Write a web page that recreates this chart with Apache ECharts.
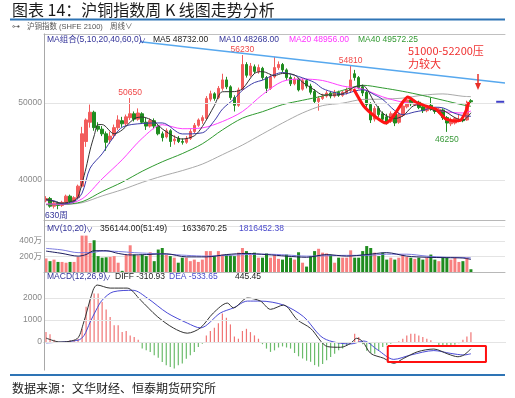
<!DOCTYPE html>
<html>
<head>
<meta charset="utf-8">
<script src="https://cdn.jsdelivr.net/npm/echarts@6/dist/echarts.min.js"></script>
<style>
  html, body { margin: 0; padding: 0; background: #fff; }
  #chart { width: 515px; height: 398px; }
</style>
</head>
<body>
<div id="chart"></div>
<script>
// weekly candles: [open, close, low, high]
const ohlc = [
  [37300,37600,37100,37900],[37600,36600,36400,37800],[36600,37000,36300,37200],[37000,36700,36200,37200],
  [36700,37100,36500,37300],[37100,37900,36900,38100],[37900,37200,37000,38100],[37200,37700,37000,37900],
  [37700,39200,37500,39400],[39200,46000,39000,46900],[45000,47800,44300,48000],[47500,48800,46800,49800],
  [48800,46800,46400,49000],[47000,46600,46300,47500],[46600,46000,45700,47000],[46000,44900,43800,46300],
  [45200,45700,44700,46300],[45800,46800,45400,47200],[46800,47800,46500,48400],[47700,47300,46900,48200],
  [47300,48200,47000,48500],[48100,48600,47800,50650],[48600,47900,47600,48900],[47900,48700,47700,49300],
  [48600,47500,47300,48800],[47500,47000,46500,48100],[47000,47700,46800,48000],[47700,47000,46600,48000],
  [47000,46000,45800,47200],[46000,45500,45000,46300],[45600,46400,45400,46700],[46400,45000,44300,46600],
  [45100,45300,44600,45800],[45400,45000,44800,45700],[45000,44900,44600,45400],[44900,45400,44700,45700],
  [45400,46300,45200,46600],[46300,47100,46100,47400],[47100,47800,46900,48000],[47700,48100,47300,48400],
  [48000,50600,47900,50900],[50500,51200,50200,51600],[51200,50600,50300,51400],[50700,51900,50500,52200],
  [51900,53000,51600,53800],[53000,52100,51800,53400],[52100,50700,50400,52300],[50700,49700,48900,51000],
  [49700,51700,49500,52000],[51800,55000,51600,56230],[55000,53600,53300,55300],[53600,54800,53400,55200],
  [54700,54100,53800,55000],[54100,54600,53800,55000],[54500,53300,53000,54700],[53300,51900,51300,53500],
  [51900,53400,51700,53700],[53400,54600,53200,56000],[54600,55000,54300,55400],[55000,54300,54000,55200],
  [54300,53300,53000,54500],[53300,52500,52200,53600],[52500,53100,52300,53400],[53100,51700,51500,53300],
  [51800,52900,51600,53200],[52900,52200,51900,53100],[52200,51400,51100,52500],[51500,50200,50000,51800],
  [50200,50600,49000,50900],[50600,50900,50400,51200],[50900,51300,50700,51600],[51300,50900,50600,51500],
  [50900,51400,50700,51700],[51400,51000,50800,51600],[51000,51400,50800,51600],[51300,51700,51100,52000],
  [51600,53000,51300,54810],[53800,53300,52900,54300],[53300,52000,51800,53500],[52100,51300,50900,52400],
  [51400,49800,49500,51600],[49800,47800,47400,50100],[47900,49300,47600,49600],[49300,48500,48200,49600],
  [48600,47900,47600,48900],[48200,47500,47200,48600],[47600,48600,47400,48900],[48600,47400,47000,48800],
  [47500,48500,47300,48800],[48400,49600,48200,49900],[49500,50400,49300,50700],[50400,49900,49600,50600],
  [49800,50100,49600,50400],[50100,49400,49200,50300],[49500,49000,48700,49700],[49000,49500,48800,49700],
  [49700,49200,49000,50700],[49200,48900,48600,49400],[48800,49200,48600,49400],[49100,48100,47800,49300],
  [48100,47400,46250,48300],[47300,47800,47000,48100],[47400,48000,47200,48200],[47800,47900,47500,48600],
  [47900,47700,47500,48100],[47800,49900,47700,50300],[50300,50160,49900,50500]
];

// volume, 万
const volume = [
  175,140,160,130,130,120,130,130,195,470,
  470,375,410,205,185,190,195,205,120,15,
  225,345,225,215,225,205,255,140,290,310,
  225,205,185,120,185,185,140,160,130,160,
  270,270,205,270,225,225,215,205,250,310,
  270,225,250,185,185,240,185,215,170,160,
  225,185,160,255,120,70,205,270,300,250,
  240,225,120,185,185,185,280,185,185,270,
  335,310,250,205,250,160,185,160,185,225,
  195,185,170,185,160,185,225,160,140,185,
  185,160,185,130,140,185,35.6
];

// moving averages: [week index, value]
const ma5 = [[0,37500],[2,37200],[4,37000],[7,37320],[8,37820],[9,39600],[10,41580],[11,43900],[12,45720],[13,47200],[14,47200],[17,46000],[19,46500],[22,47960],[24,48180],[27,47580],[29,46640],[32,45640],[34,45320],[37,45740],[39,46940],[42,49660],[44,51460],[47,51480],[49,51840],[52,53840],[54,54080],[57,53560],[59,53840],[62,53640],[64,52700],[67,51680],[69,51060],[72,51020],[74,51200],[77,52080],[79,52260],[82,50040],[84,48660],[87,47980],[89,48320],[92,49700],[94,49760],[97,49000],[99,48980],[102,48100],[104,47760],[106,48732]];
const ma10 = [[0,37400],[2,37300],[4,36900],[7,37200],[9,38300],[11,41540],[14,43400],[16,44950],[19,46850],[24,47340],[29,47410],[34,45980],[39,46130],[42,47700],[44,49200],[47,50570],[49,51650],[52,52660],[54,52960],[57,53700],[59,53960],[62,53600],[64,53270],[67,52660],[69,51880],[72,51350],[74,51130],[77,51550],[79,51730],[82,51060],[84,50460],[87,49010],[89,48490],[92,48840],[94,49040],[97,49450],[99,49370],[102,48650],[104,48370],[106,48268]];
const ma20 = [[0,36900],[4,36850],[9,37550],[14,40150],[19,42625],[24,45420],[29,47180],[34,46660],[39,46770],[44,47590],[49,48890],[54,51080],[59,52805],[64,53115],[69,52920],[74,52200],[79,51805],[84,50795],[89,50110],[94,49750],[99,48930],[104,48705],[106,48956]];
const ma40 = [[0,36800],[4,36825],[9,37175],[14,38500],[19,39712],[24,41135],[29,42365],[34,43430],[39,44698],[44,46505],[49,48035],[54,48870],[59,49788],[64,50353],[69,50905],[74,51640],[79,52305],[84,51955],[89,51515],[94,50975],[99,50368],[104,49750],[106,49572]];
const ma60 = [[0,36800],[4,36817],[9,37050],[14,37933],[19,38742],[24,39690],[29,40510],[34,41220],[39,42065],[44,43287],[49,44540],[54,45980],[59,47400],[64,48708],[69,49663],[74,49980],[79,50460],[84,50500],[89,50640],[94,51010],[99,51180],[104,50872],[106,50826]];

const volMa10 = [[0,270],[4,240],[8,205],[10,225],[12,275],[15,275],[18,240],[21,220],[25,225],[30,235],[35,195],[40,195],[45,225],[50,240],[55,225],[60,205],[65,190],[70,225],[75,205],[80,225],[85,250],[90,205],[95,190],[100,185],[104,180],[106,163]];
const volMa20 = [[0,305],[4,285],[8,250],[11,250],[14,270],[18,265],[22,250],[26,240],[30,230],[35,215],[40,205],[45,215],[50,225],[55,230],[60,220],[65,205],[70,210],[75,215],[80,215],[85,230],[90,230],[95,205],[100,190],[104,188],[106,182]];

// MACD(12,26,9)
const macdHist = [
  450,350,100,0,-40,30,80,100,150,600,
  1600,1900,2200,2200,1820,1480,1140,760,760,450,
  500,300,230,100,-300,-380,-450,-600,-720,-910,
  -1060,-1140,-1210,-1060,-980,-760,-600,-450,-230,-80,
  300,500,650,850,1300,1100,800,250,150,500,
  600,450,300,150,-100,-300,-450,-380,-250,-200,
  -250,-300,-500,-650,-750,-850,-900,-1050,-1120,-1000,
  -830,-680,-530,-380,-300,-150,0,380,230,-100,
  -400,-500,-530,-380,-230,-150,-80,-30,30,150,
  300,380,380,300,230,150,80,-50,-150,-230,
  -200,-150,-120,-60,100,250,445
];
const diff = [[0,180],[3.5,0],[7.75,150],[9.25,800],[11.75,2360],[12.75,2590],[16,2450],[20.25,2450],[23.5,1920],[27.75,1160],[31.75,640],[35.25,400],[38.5,640],[41.75,1320],[45.25,1770],[46.75,1550],[50.25,2000],[53.5,1860],[56,1485],[59.25,1680],[62.75,1000],[66,620],[70.25,-210],[73.5,-240],[76,-60],[77.5,170],[79,15],[81,-520],[84.25,-740],[86.75,-970],[89.25,-740],[92.75,-440],[96.75,-320],[100.25,-545],[102.75,-670],[104.25,-590],[106,-311]];
const dea = [[0,-40],[8,80],[9.5,300],[11,900],[12.5,1450],[14,1900],[16.75,2280],[21.75,2350],[25.25,2000],[30.25,1320],[35.25,860],[38.5,640],[43.5,1320],[46.75,1550],[50.25,1860],[53.5,1860],[59.25,1680],[64.25,1150],[69.25,170],[76,-90],[79.25,45],[82.75,-360],[86.75,-790],[91,-590],[96.75,-390],[101,-520],[104.25,-590],[106,-534]];

// marked extremes
const peakIdx = [21, 49, 76, 100];
const peakPrice = [50650, 56230, 54810, 46250];

// analyst drawings, in [week index, price]
const trendLine = [[23.5, 57950], [114.5, 52610]];
const wLine = [[76.75,51820],[79.25,49610],[82.25,48180],[84.75,47400],[86.5,48180],[89,50130],[90.25,50780],[92.25,50130],[95.5,49480],[97.25,49220],[99.75,47920],[102.25,47660],[103.5,47790],[104.75,48960],[105.5,50130]];
const lastPrice = [[112.3, 50160], [114.3, 50160]];
const macdBox = [[85.25,-180],[109.75,-180],[109.75,-910],[85.25,-910],[85.25,-180]];

const slots = 115;
const cats = [];
for (let i = 0; i < slots; i++) cats.push('W' + (i + 1));

const UP = '#f25c5c', DOWN = '#1f8c1f';
const NUM_FONT = '"Liberation Sans", "Noto Sans CJK SC", sans-serif';

function txt(x, y, text, color, size, family) {
  return {
    type: 'text', x: x, y: y, silent: true, z: 20,
    style: { text: text, fill: color, font: size + 'px ' + (family || NUM_FONT), verticalAlign: 'middle' }
  };
}
function hline(x1, x2, y, color, w) {
  return { type: 'line', silent: true, z: 20, shape: { x1: x1, y1: y, x2: x2, y2: y }, style: { stroke: color, lineWidth: w || 1 } };
}

const catAxis = g => ({
  type: 'category', gridIndex: g, data: cats, boundaryGap: true,
  axisLine: { show: true, lineStyle: { color: '#b8b8b8' } },
  axisTick: { show: false }, axisLabel: { show: false }, splitLine: { show: false }
});
const valAxis = g => ({
  type: 'value', gridIndex: g, min: -0.5, max: slots - 0.5, show: false
});
const gridMark = (vals) => ({
  silent: true, symbol: ['none', 'none'], animation: false,
  lineStyle: { color: '#e4e4e4', type: 'solid', width: 1 },
  label: { position: 'start', distance: 2, color: '#888', fontSize: 8.5, fontFamily: 'Liberation Sans', formatter: p => p.value },
  data: vals.map(v => ({ yAxis: v }))
});
const maLine = (data, color, xi, yi) => ({
  type: 'line', xAxisIndex: xi, yAxisIndex: yi, data: data, showSymbol: false, symbol: 'none',
  smooth: 0.3, lineStyle: { color: color, width: 1 }, z: 4, silent: true
});

const chart = echarts.init(document.getElementById('chart'), null, { renderer: 'canvas' });

chart.setOption({
  animation: false,
  backgroundColor: '#fff',
  grid: [
    { left: 44, right: 10, top: 34, height: 186, outerBoundsMode: 'none' },
    { left: 44, right: 10, top: 226, height: 46, outerBoundsMode: 'none' },
    { left: 44, right: 10, top: 277, height: 93, outerBoundsMode: 'none' }
  ],
  xAxis: [
    catAxis(0), catAxis(1), catAxis(2),
    Object.assign(valAxis(0), { show: true, position: 'top', axisLine: { show: true, lineStyle: { color: '#c0c0c0' } }, axisTick: { show: false }, axisLabel: { show: false }, splitLine: { show: false } }),
    valAxis(1), valAxis(2)
  ],
  yAxis: [
    { type: 'value', gridIndex: 0, min: 34805, max: 58961, axisLine: { show: false }, axisTick: { show: false }, axisLabel: { show: false }, splitLine: { show: false } },
    { type: 'value', gridIndex: 1, min: 0, max: 594, interval: 200,
      axisLine: { show: false }, axisTick: { show: false },
      axisLabel: { color: '#888', fontSize: 8.5, fontFamily: 'Liberation Sans, Noto Sans CJK SC', margin: 2, showMaxLabel: false, formatter: v => v ? v + '万' : '' },
      splitLine: { show: true, lineStyle: { color: '#e4e4e4' } } },
    { type: 'value', gridIndex: 2, min: -1273, max: 2955, axisLine: { show: false }, axisTick: { show: false }, axisLabel: { show: false }, splitLine: { show: false } }
  ],
  series: [
    { type: 'line', xAxisIndex: 3, yAxisIndex: 0, data: [], z: 1, markLine: gridMark([50000, 40000]) },
    {
      type: 'candlestick', xAxisIndex: 0, yAxisIndex: 0, data: ohlc, barWidth: 3, z: 3,
      itemStyle: { color: UP, color0: DOWN, borderColor: UP, borderColor0: DOWN, borderWidth: 1 },
      markPoint: {
        symbol: 'circle', symbolSize: 0, silent: true,
        data: peakIdx.map((idx, k) => ({
          coord: [idx, peakPrice[k]], value: peakPrice[k],
          label: {
            show: true, position: k === 3 ? 'bottom' : 'top', distance: k === 3 ? 3 : 1,
            color: k === 3 ? '#3a9a3a' : '#f04848', fontSize: 8.5, fontFamily: 'Liberation Sans',
            formatter: p => p.value
          }
        }))
      }
    },
    maLine(ma60, '#a9a9a9', 3, 0),
    maLine(ma40, '#2f9a2f', 3, 0),
    maLine(ma20, '#ff40ff', 3, 0),
    maLine(ma10, '#3c3ca8', 3, 0),
    maLine(ma5, '#333333', 3, 0),
    { type: 'line', xAxisIndex: 3, yAxisIndex: 0, data: trendLine, showSymbol: false, symbol: 'none', lineStyle: { color: '#57a8ee', width: 1.5 }, z: 5, silent: true },
    { type: 'line', xAxisIndex: 3, yAxisIndex: 0, data: wLine, showSymbol: false, symbol: 'none', smooth: 0.2, lineStyle: { color: '#ff1414', width: 3 }, z: 6, silent: true },
    { type: 'line', xAxisIndex: 3, yAxisIndex: 0, data: lastPrice, showSymbol: false, symbol: 'none', lineStyle: { color: '#4040c8', width: 2 }, z: 6, silent: true },

    {
      type: 'bar', xAxisIndex: 1, yAxisIndex: 1, barWidth: 3, z: 3, silent: true,
      data: volume.map((v, i) => ({ value: v, itemStyle: { color: ohlc[i][1] >= ohlc[i][0] ? '#f88080' : DOWN } }))
    },
    maLine(volMa20, '#7c7ce0', 4, 1),
    maLine(volMa10, '#1c1c5e', 4, 1),

    { type: 'line', xAxisIndex: 5, yAxisIndex: 2, data: [], z: 1, markLine: gridMark([2000, 1000, 0]) },
    {
      type: 'bar', xAxisIndex: 2, yAxisIndex: 2, barWidth: 1.2, z: 3, silent: true,
      data: macdHist.map(v => ({ value: v, itemStyle: { color: v >= 0 ? '#f07575' : '#6cbc6c' } }))
    },
    maLine(dea, '#4a4ad6', 5, 2),
    maLine(diff, '#333333', 5, 2),
    { type: 'line', xAxisIndex: 5, yAxisIndex: 2, data: macdBox, showSymbol: false, symbol: 'none', lineStyle: { color: '#ff1010', width: 2 }, z: 6, silent: true }
  ],
  graphic: [
    txt(12, 10, '图表 14：沪铜指数周 K 线图走势分析', '#1a1a1a', 16, '"Noto Sans CJK SC", sans-serif'),
    hline(10, 505, 19.5, '#2e74b5', 2),
    txt(12, 27, '⊶', '#555', 8),
    txt(27, 27, '沪铜指数 (SHFE 2100)', '#555', 7.5),
    txt(110, 27, '周线∨', '#555', 7.5),
    { type: 'line', silent: true, z: 20, shape: { x1: 44.5, y1: 33.5, x2: 44.5, y2: 370.5 }, style: { stroke: '#a8a8a8', lineWidth: 1 } },

    txt(47, 40, 'MA组合(5,10,20,40,60,0)', '#333399', 8.5),
    txt(139, 41, '∨', '#333399', 7),
    txt(153, 40, 'MA5 48732.00', '#222', 8.5),
    txt(219, 40, 'MA10 48268.00', '#333399', 8.5),
    txt(289, 40, 'MA20 48956.00', '#ff33ff', 8.5),
    txt(358, 40, 'MA40 49572.25', '#339933', 8.5),

    txt(408, 51, '51000-52200压', '#f03030', 11, '"Noto Sans CJK SC", sans-serif'),
    txt(408, 64, '力较大', '#f03030', 11, '"Noto Sans CJK SC", sans-serif'),
    { type: 'line', silent: true, z: 20, shape: { x1: 478, y1: 74, x2: 478, y2: 84 }, style: { stroke: '#e83028', lineWidth: 1.5 } },
    { type: 'polygon', silent: true, z: 20, shape: { points: [[475, 83], [481, 83], [478, 90]] }, style: { fill: '#e83028' } },
    txt(45, 216, '630周', '#333399', 8.5),

    txt(47, 229, 'MV(10,20)', '#333399', 8.5),
    txt(86, 230, '∨', '#333399', 7),
    txt(100, 229, '356144.00(51:49)', '#222', 8.5),
    txt(182, 229, '1633670.25', '#222', 8.5),
    txt(239, 229, '1816452.38', '#4a4acc', 8.5),

    txt(47, 277, 'MACD(12,26,9)', '#333399', 8.5),
    txt(104, 278, '∨', '#333399', 7),
    txt(115, 277, 'DIFF -310.93', '#222', 8.5),
    txt(169, 277, 'DEA -533.65', '#4a4acc', 8.5),
    txt(235, 277, '445.45', '#222', 8.5),

    hline(10, 505, 375, '#2e74b5', 2),
    txt(12, 388, '数据来源：文华财经、恒泰期货研究所', '#222', 12, '"Noto Sans CJK SC", sans-serif')
  ]
});
</script>
</body>
</html>
